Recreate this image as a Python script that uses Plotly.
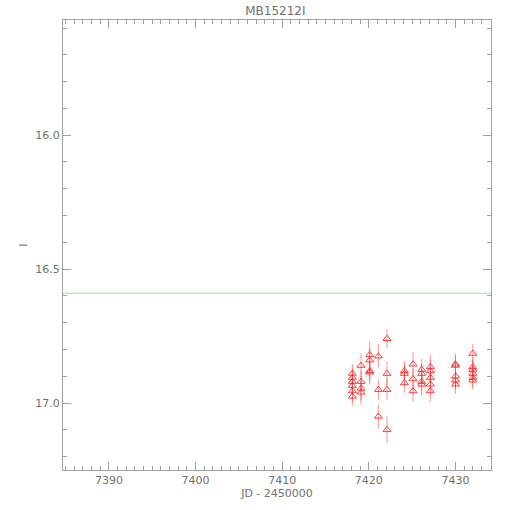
import plotly.graph_objects as go

title_text = "MB15212I"
x_title = "JD - 2450000"
y_title = "I"

jd = ([7418.1] * 6 + [7419.1] * 4 + [7420.1] * 4 + [7421.1] * 3 + [7422.1] * 4 +
      [7424.1] * 3 + [7425.1] * 3 + [7426.1] * 4 + [7427.1] * 5 + [7430.0] * 5 + [7432.0] * 6)
mag = [16.89, 16.905, 16.92, 16.935, 16.955, 16.975,
       16.86, 16.92, 16.945, 16.96,
       16.82, 16.84, 16.88, 16.885,
       16.825, 16.95, 17.05,
       16.76, 16.89, 16.95, 17.10,
       16.88, 16.89, 16.925,
       16.855, 16.91, 16.955,
       16.875, 16.89, 16.92, 16.93,
       16.865, 16.88, 16.905, 16.93, 16.955,
       16.855, 16.86, 16.90, 16.915, 16.93,
       16.815, 16.865, 16.875, 16.89, 16.905, 16.915]
err = [0.035, 0.035, 0.04, 0.035, 0.04, 0.035,
       0.045, 0.04, 0.045, 0.045,
       0.05, 0.045, 0.04, 0.045,
       0.045, 0.04, 0.045,
       0.036, 0.045, 0.04, 0.05,
       0.035, 0.04, 0.035,
       0.045, 0.04, 0.04,
       0.04, 0.035, 0.035, 0.04,
       0.045, 0.04, 0.04, 0.035, 0.04,
       0.04, 0.035, 0.035, 0.035, 0.035,
       0.035, 0.035, 0.035, 0.035, 0.035, 0.035]
ref_mag = 16.59

x_range = [7384.7, 7434.1]
y_range = [17.25, 15.57]

axis_col = "#a0a0a0"
text_col = "#707070"
font_family = "DejaVu Sans"

fig = go.Figure()
fig.add_trace(go.Scatter(
    x=jd, y=mag, mode="markers",
    marker=dict(symbol="triangle-up-open", size=7, color="rgba(255,30,30,0.85)",
                line=dict(width=1)),
    error_y=dict(type="data", array=err, visible=True, thickness=1, width=0,
                 color="rgba(255,60,60,0.55)"),
    showlegend=False,
))
fig.add_hline(y=ref_mag, line=dict(color="#90e890", width=1))

common = dict(showgrid=False, zeroline=False, showline=True, linecolor=axis_col,
              linewidth=1, mirror="ticks", ticks="inside", ticklen=8,
              tickcolor=axis_col, automargin=False,
              tickfont=dict(family=font_family, size=11, color=text_col))

fig.update_xaxes(range=x_range, dtick=10, tick0=7390,
                 minor=dict(dtick=1, ticks="inside", ticklen=4, tickcolor=axis_col),
                 title=dict(text=x_title, font=dict(family=font_family, size=11, color=text_col),
                            standoff=3),
                 **common)
fig.update_yaxes(range=y_range, dtick=0.5, tick0=16.0, tickformat=".1f",
                 minor=dict(dtick=0.1, ticks="inside", ticklen=4, tickcolor=axis_col),
                 title=dict(text=y_title, font=dict(family=font_family, size=11, color=text_col),
                            standoff=5),
                 **common)

fig.update_layout(
    width=510, height=510,
    margin=dict(l=63, r=19, t=20, b=40, autoexpand=False),
    plot_bgcolor="white", paper_bgcolor="white",
    title=dict(text=title_text, x=0.54, xanchor="center", y=0.979, yanchor="middle",
               font=dict(family=font_family, size=12, color=text_col)),
)

fig.write_html("out.html", config={"displayModeBar": False},
               post_script="document.body.style.margin='0';")
